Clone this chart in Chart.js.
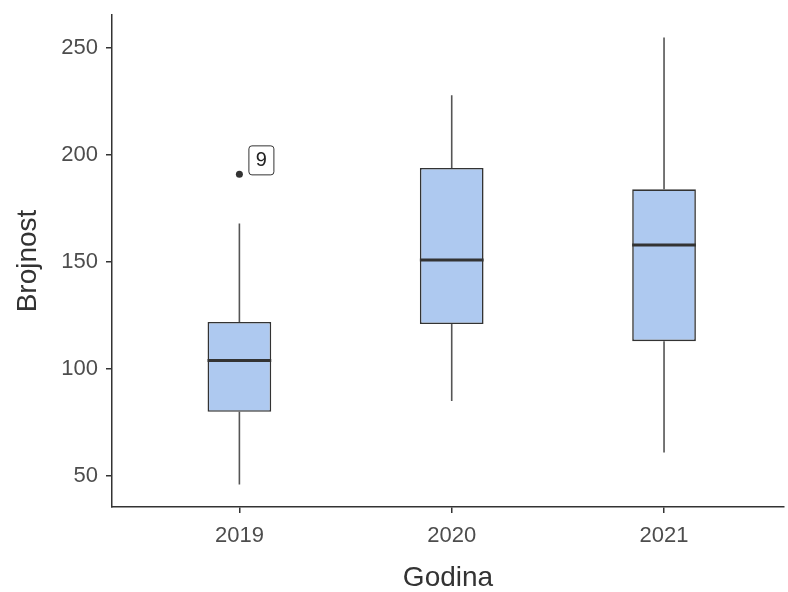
<!DOCTYPE html>
<html><head><meta charset="utf-8">
<script src="https://cdn.jsdelivr.net/npm/chart.js@4/dist/chart.umd.min.js"></script>
<style>html,body{margin:0;padding:0;background:#fff}#wrap{width:788px;height:592px}</style>
</head><body><div id="wrap"><canvas id="c" width="788" height="592"></canvas></div>
<script>
const categories = ['2019', '2020', '2021'];
const whiskerLow = [46, 85, 61];
const q1 = [80, 121, 113];
const median = [104, 151, 158];
const q3 = [122, 194, 184];
const whiskerHigh = [168, 228, 255];
const outlierCategory = [0];
const outlierValue = [191];
const outlierLabel = ['9'];
const yTicks = [50, 100, 150, 200, 250];

const FONT = '"Liberation Sans", Arial, sans-serif';

const boxPlugin = {
  id: 'boxParts',
  beforeDatasetsDraw(chart) {
    const ctx = chart.ctx, x = chart.scales.x, y = chart.scales.y;
    ctx.save();
    ctx.strokeStyle = '#555';
    ctx.lineWidth = 1.6;
    categories.forEach((c, i) => {
      const px = x.getPixelForValue(i);
      ctx.beginPath();
      ctx.moveTo(px, y.getPixelForValue(whiskerLow[i]));
      ctx.lineTo(px, y.getPixelForValue(q1[i]));
      ctx.moveTo(px, y.getPixelForValue(q3[i]));
      ctx.lineTo(px, y.getPixelForValue(whiskerHigh[i]));
      ctx.stroke();
    });
    ctx.restore();
  },
  afterDatasetsDraw(chart) {
    const ctx = chart.ctx, x = chart.scales.x, y = chart.scales.y;
    const half = (x.getPixelForValue(1) - x.getPixelForValue(0)) * 0.15;
    ctx.save();
    ctx.strokeStyle = '#333';
    ctx.lineWidth = 3;
    categories.forEach((c, i) => {
      const px = x.getPixelForValue(i), py = y.getPixelForValue(median[i]);
      ctx.beginPath();
      ctx.moveTo(px - half, py);
      ctx.lineTo(px + half, py);
      ctx.stroke();
    });
    ctx.font = '20px ' + FONT;
    ctx.textAlign = 'center';
    ctx.textBaseline = 'middle';
    outlierLabel.forEach((t, i) => {
      const px = x.getPixelForValue(outlierCategory[i]);
      const py = y.getPixelForValue(outlierValue[i]);
      const bx = px + 9, by = py - 29, bw = 25, bh = 29;
      ctx.fillStyle = '#fff';
      ctx.strokeStyle = '#333';
      ctx.lineWidth = 1;
      ctx.beginPath();
      ctx.roundRect(bx + 0.5, by + 0.5, bw, bh, 3);
      ctx.fill();
      ctx.stroke();
      ctx.fillStyle = '#222';
      ctx.fillText(t, bx + bw / 2 + 0.5, by + bh / 2 + 1);
    });
    ctx.restore();
  }
};

function noPad(s) {
  s.paddingTop = 0; s.paddingBottom = 0; s.paddingLeft = 0; s.paddingRight = 0;
}

new Chart(document.getElementById('c'), {
  type: 'bar',
  data: {
    datasets: [{
      type: 'bar',
      data: categories.map((c, i) => ({ x: i, y: [q1[i], q3[i]] })),
      backgroundColor: '#aec9f0',
      borderColor: '#333',
      borderWidth: 1.6,
      borderSkipped: false,
      barPercentage: 1,
      categoryPercentage: 0.3
    }, {
      type: 'scatter',
      data: outlierValue.map((v, i) => ({ x: outlierCategory[i], y: v })),
      pointRadius: 3.5,
      pointBackgroundColor: '#333',
      pointBorderWidth: 0
    }]
  },
  options: {
    responsive: false,
    animation: false,
    layout: { padding: { top: 15, right: 0, left: 0, bottom: 0 } },
    plugins: { legend: { display: false }, tooltip: { enabled: false } },
    scales: {
      x: {
        type: 'linear',
        offset: false,
        min: -0.6,
        max: 2.565,
        afterBuildTicks(s) { s.ticks = categories.map((c, i) => ({ value: i })); },
        afterFit(s) { s.height = 85; noPad(s); },
        ticks: {
          callback: v => categories[v],
          color: '#4d4d4d',
          font: { family: FONT, size: 22 },
          padding: 10,
          maxRotation: 0,
          autoSkip: false
        },
        grid: { display: true, offset: false, drawOnChartArea: false, drawTicks: true, tickLength: 6, color: '#333', lineWidth: 1.5 },
        border: { display: true, color: '#333', width: 1.5 },
        title: {
          display: true, text: 'Godina', color: '#333',
          font: { family: FONT, size: 28, lineHeight: 1 },
          padding: { top: 0, bottom: 0 }
        }
      },
      y: {
        type: 'linear',
        min: 35.5,
        max: 265.5,
        afterBuildTicks(s) { s.ticks = yTicks.map(v => ({ value: v })); },
        afterFit(s) { s.width = 112; noPad(s); },
        ticks: {
          color: '#4d4d4d',
          font: { family: FONT, size: 22 },
          padding: 8
        },
        grid: { display: true, drawOnChartArea: false, drawTicks: true, tickLength: 6, color: '#333', lineWidth: 1.5 },
        border: { display: true, color: '#333', width: 1.5 },
        title: {
          display: true, text: 'Brojnost', color: '#333',
          font: { family: FONT, size: 28, lineHeight: 1 },
          padding: { top: 14, bottom: 0 }
        }
      }
    }
  },
  plugins: [boxPlugin]
});
</script></body></html>
